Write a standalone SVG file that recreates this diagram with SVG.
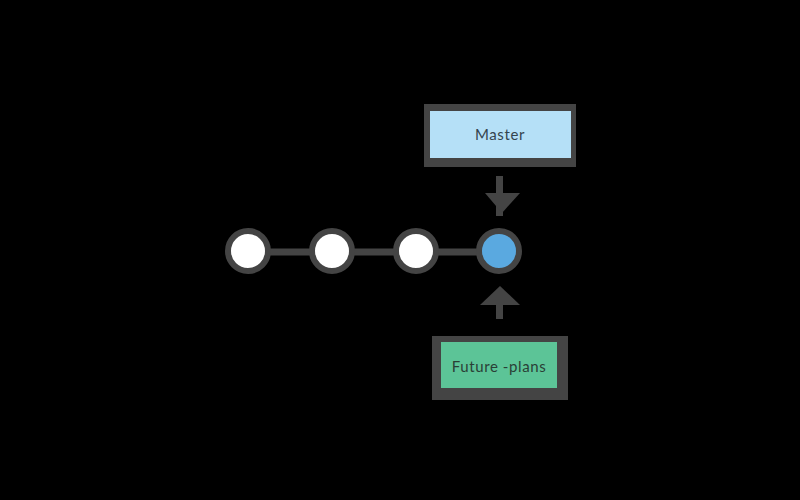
<svg xmlns="http://www.w3.org/2000/svg" width="800" height="500" viewBox="0 0 800 500">
  <style>
    .edge { stroke: #444444; stroke-width: 7; fill: none; }
    .commit { stroke: #444444; stroke-width: 6; }
    .arrow { fill: #444444; }
    .frame { fill: #444444; }
    .label { font-family: "Lato", "DejaVu Sans", sans-serif; font-size: 15px; letter-spacing: 0.6px; text-anchor: middle; dominant-baseline: central; }
  </style>
  <rect x="0" y="0" width="800" height="500" fill="#000000"/>
  <g id="connectors">
    <line class="edge" x1="248" y1="252" x2="499" y2="252"/>
    <g id="arrow-master">
      <rect class="arrow" x="496" y="176" width="7" height="40"/>
      <polygon class="arrow" points="485,193 520,193 502,213"/>
    </g>
    <g id="arrow-future">
      <rect class="arrow" x="496" y="300" width="7" height="19"/>
      <polygon class="arrow" points="480,305 520,305 500,286"/>
    </g>
  </g>
  <g id="c1"><circle class="commit" cx="248" cy="251" r="20" fill="#ffffff"/></g>
  <g id="c2"><circle class="commit" cx="332" cy="251" r="20" fill="#ffffff"/></g>
  <g id="c3"><circle class="commit" cx="416" cy="251" r="20" fill="#ffffff"/></g>
  <g id="c4"><circle class="commit" cx="499" cy="251" r="20" fill="#5aa9e0"/></g>
  <g id="master">
    <rect class="frame" x="424" y="104" width="152" height="63"/>
    <rect x="430" y="111" width="141" height="47" fill="#b5e0f7"/>
    <text class="label" x="500" y="134" fill="#34444e">Master</text>
  </g>
  <g id="future-plans">
    <rect class="frame" x="432" y="336" width="136" height="64"/>
    <rect x="441" y="342" width="116" height="46" fill="#5cc497"/>
    <text class="label" x="499" y="366" fill="#2a3f36">Future -plans</text>
  </g>
</svg>
